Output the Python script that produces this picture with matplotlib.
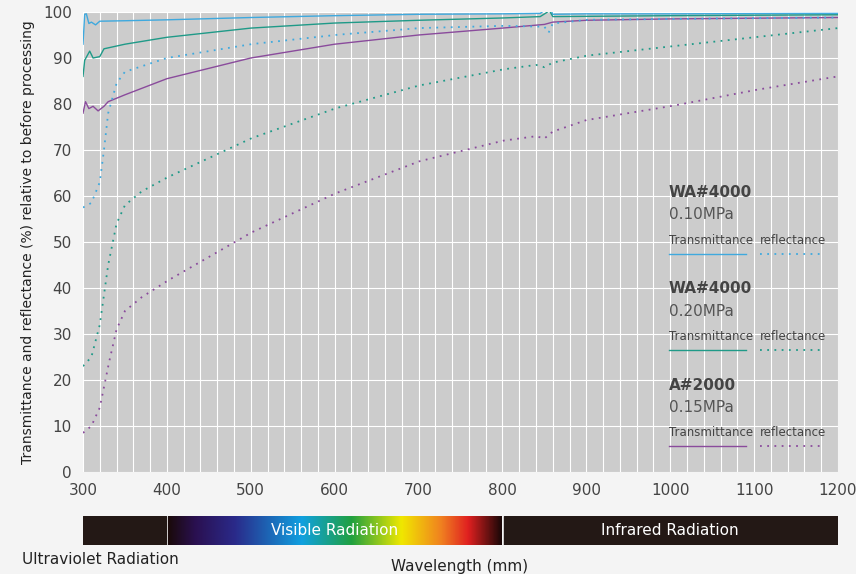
import numpy as np
import matplotlib
matplotlib.use('Agg')
import matplotlib.pyplot as plt
from matplotlib.colors import LinearSegmentedColormap

# wavelength samples (nm) and read-off values (%)
WL_BT = [300, 302, 304, 307, 310, 315, 320, 350, 400, 500, 600, 700, 800, 845, 852, 856, 860, 900, 1000, 1200]
BLUE_T = [93, 99.5, 99.6, 97.5, 97.8, 97.2, 98.0, 98.1, 98.3, 98.8, 99.2, 99.5, 99.6, 99.7, 100.6, 101.2, 99.5, 99.6, 99.6, 99.7]
WL_GT = [300, 302, 305, 308, 312, 320, 325, 350, 400, 500, 600, 700, 800, 845, 852, 856, 860, 1000, 1200]
GREEN_T = [86, 89.5, 90.5, 91.5, 90, 90.3, 92, 93, 94.5, 96.5, 97.6, 98.2, 98.7, 99.0, 99.8, 100.3, 99.0, 99.2, 99.4]
WL_PT = [300, 303, 307, 312, 318, 325, 330, 350, 400, 500, 600, 700, 800, 850, 860, 900, 1000, 1200]
PURPLE_T = [78, 80.5, 79, 79.5, 78.5, 79.5, 80.5, 82, 85.5, 90, 93, 95, 96.5, 97.3, 97.8, 98.2, 98.5, 98.8]
WL_BR = [300, 310, 320, 325, 330, 340, 350, 400, 500, 600, 700, 800, 850, 855, 860, 900, 1000, 1200]
BLUE_R = [57.5, 58.5, 63, 70, 78, 84.5, 87, 90, 93, 95, 96.5, 97, 96.8, 95.5, 97.5, 98.3, 98.5, 98.8]
WL_GR = [300, 310, 320, 330, 340, 350, 370, 400, 500, 600, 700, 800, 840, 850, 860, 900, 1000, 1100, 1200]
GREEN_R = [23, 25, 32, 45, 54, 58, 61, 64, 72.5, 79, 84, 87.5, 88.5, 88, 89, 90.5, 92.5, 94.5, 96.5]
WL_PR = [300, 310, 320, 330, 340, 350, 370, 400, 500, 600, 700, 800, 840, 850, 860, 900, 1000, 1100, 1200]
PURPLE_R = [8.5, 10, 14, 23, 31, 35, 38, 41.5, 52, 60.5, 67.5, 72, 73, 72.5, 74, 76.5, 79.5, 83, 86]

BLUE, GREEN, PURPLE = '#3fa9de', '#1f9a88', '#8a4b9c'
LEGEND = [('WA#4000', '0.10MPa', BLUE), ('WA#4000', '0.20MPa', GREEN), ('A#2000', '0.15MPa', PURPLE)]

W, H = 856, 574
fig = plt.figure(figsize=(W / 100, H / 100), dpi=100, facecolor='#f4f4f4')
ax = fig.add_axes([83 / W, 1 - 472 / H, 755 / W, 460 / H])
ax.set_facecolor('#cccccc')

grid = np.arange(300, 1201, 1)
for wl, v, c, ls in [(WL_BT, BLUE_T, BLUE, '-'), (WL_GT, GREEN_T, GREEN, '-'), (WL_PT, PURPLE_T, PURPLE, '-'),
                     (WL_BR, BLUE_R, BLUE, ':'), (WL_GR, GREEN_R, GREEN, ':'), (WL_PR, PURPLE_R, PURPLE, ':')]:
    if ls == '-':
        ax.plot(wl, v, color=c, lw=1.0, zorder=3)
    else:
        ax.plot(grid, np.interp(grid, wl, v), color=c, lw=1.3, ls=(0, (1, 3)), zorder=3)

ax.set_xlim(300, 1200)
ax.set_ylim(0, 100)
ax.set_xticks(range(300, 1201, 20), minor=True)
ax.set_xticks(range(300, 1201, 100))
ax.set_yticks(range(0, 101, 10))
ax.grid(True, which='both', axis='x', color='white', lw=0.8)
ax.grid(True, which='major', axis='y', color='white', lw=0.8)
ax.set_axisbelow(True)
for s in ax.spines.values():
    s.set_visible(False)
ax.tick_params(length=0, which='both', labelsize=11, colors='#444', pad=8)
ax.set_ylabel('Transmittance and reflectance (%) relative to before processing', fontsize=10, color='#222', labelpad=6)

# legend block
for i, (name, press, c) in enumerate(LEGEND):
    d = i * 0.209
    ax.text(0.776, 0.607 - d, name, transform=ax.transAxes, fontsize=11, fontweight='bold', color='#444', va='center')
    ax.text(0.776, 0.559 - d, press, transform=ax.transAxes, fontsize=11, color='#555', va='center')
    ax.text(0.776, 0.504 - d, 'Transmittance', transform=ax.transAxes, fontsize=8.5, color='#444', va='center')
    ax.text(0.897, 0.504 - d, 'reflectance', transform=ax.transAxes, fontsize=8.5, color='#444', va='center')
    ax.plot([0.776, 0.878], [0.474 - d] * 2, transform=ax.transAxes, color=c, lw=1)
    ax.plot([0.897, 0.98], [0.474 - d] * 2, transform=ax.transAxes, color=c, lw=1.3, ls=(0, (1, 3)))

# spectrum bar
bx = fig.add_axes([83 / W, 1 - 545 / H, 755 / W, 29 / H])
bx.set_xlim(300, 1200)
bx.set_ylim(0, 1)
bx.axis('off')
dark = '#231815'
bx.axvspan(300, 398.5, color=dark)
bx.axvspan(801.5, 1200, color=dark)
spec = LinearSegmentedColormap.from_list('spec', [
    (0, '#1a0a0a'), (0.08, '#2a1050'), (0.2, '#2a2a8a'), (0.4, '#10a0e0'), (0.55, '#20a040'),
    (0.7, '#f0e800'), (0.82, '#f08020'), (0.9, '#e02020'), (1, '#1a0808')])
bx.imshow(np.linspace(0, 1, 256)[None, :], cmap=spec, aspect='auto', extent=[401.5, 798.5, 0, 1])
bx.text(600, 0.5, 'Visible Radiation', color='white', ha='center', va='center', fontsize=11)
bx.text(1000, 0.5, 'Infrared Radiation', color='white', ha='center', va='center', fontsize=11)
fig.text(22 / W, 1 - 560 / H, 'Ultraviolet Radiation', fontsize=11, color='#222', va='center')
fig.text(460 / W, 1 - 566 / H, 'Wavelength (mm)', fontsize=11, color='#222', ha='center', va='center')

fig.savefig('out.png', dpi=100, facecolor=fig.get_facecolor())
